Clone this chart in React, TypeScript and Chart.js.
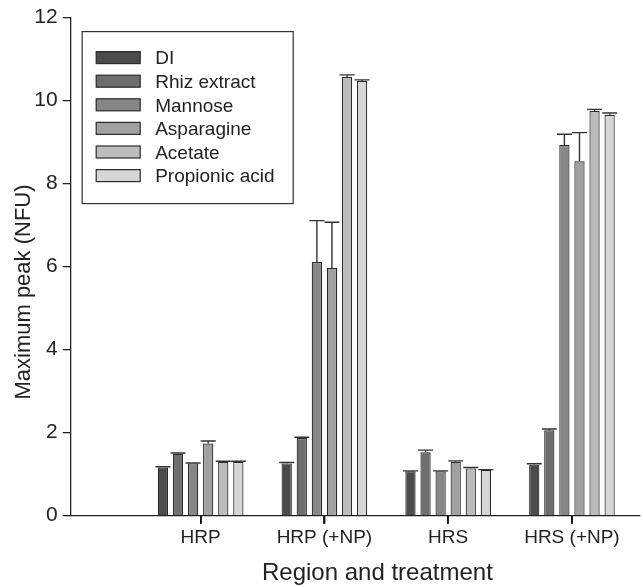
import React, { useEffect, useRef } from 'react';
import { Chart, registerables } from 'chart.js';

Chart.register(...registerables);

const categories = ['HRP', 'HRP (+NP)', 'HRS', 'HRS (+NP)'];
const categoryPositions = [1, 2, 3, 4];
const seriesNames = ['DI', 'Rhiz extract', 'Mannose', 'Asparagine', 'Acetate', 'Propionic acid'];
const seriesColors = ['#4b4b4b', '#6e6e6e', '#878787', '#a1a1a1', '#bcbcbc', '#d6d6d6'];

const diValues = [1.16, 1.26, 1.07, 1.23];
const diErrors = [0.02, 0.02, 0.01, 0.02];
const rhizValues = [1.49, 1.87, 1.53, 2.06];
const rhizErrors = [0.02, 0.02, 0.05, 0.03];
const mannoseValues = [1.26, 6.11, 1.07, 8.93];
const mannoseErrors = [0.01, 1.0, 0.01, 0.26];
const asparagineValues = [1.74, 5.97, 1.3, 8.54];
const asparagineErrors = [0.06, 1.1, 0.02, 0.69];
const acetateValues = [1.3, 10.57, 1.14, 9.75];
const acetateErrors = [0.01, 0.05, 0.02, 0.04];
const propionicValues = [1.3, 10.47, 1.1, 9.66];
const propionicErrors = [0.01, 0.03, 0.01, 0.04];

const yTickValues = [0, 2, 4, 6, 8, 10, 12];
const xTitle = 'Region and treatment';
const yTitle = 'Maximum peak (NFU)';

const allValues = [diValues, rhizValues, mannoseValues, asparagineValues, acetateValues, propionicValues];
const allErrors = [diErrors, rhizErrors, mannoseErrors, asparagineErrors, acetateErrors, propionicErrors];

const FONT = '"Liberation Sans", Arial, Helvetica, sans-serif';
const INK = '#222222';

const errorBarPlugin = {
  id: 'errorBars',
  afterDatasetsDraw(chart: any) {
    const ctx = chart.ctx;
    const yScale = chart.scales.y;
    ctx.save();
    ctx.strokeStyle = '#333333';
    ctx.lineWidth = 1.4;
    chart.data.datasets.forEach((ds: any, i: number) => {
      const meta = chart.getDatasetMeta(i);
      meta.data.forEach((bar: any, j: number) => {
        const v = ds.data[j].y;
        const e = ds.errors[j];
        const yTop = yScale.getPixelForValue(v + e);
        const x = bar.x;
        ctx.beginPath();
        ctx.moveTo(x, bar.y);
        ctx.lineTo(x, yTop);
        ctx.moveTo(x - 7.5, yTop);
        ctx.lineTo(x + 7.5, yTop);
        ctx.stroke();
      });
    });
    ctx.restore();
  },
};

const legendAndTitlesPlugin = {
  id: 'legendAndTitles',
  afterDraw(chart: any) {
    const ctx = chart.ctx;
    const area = chart.chartArea;
    const xScale = chart.scales.x;
    ctx.save();
    // x tick marks at category centres
    ctx.strokeStyle = '#111111';
    ctx.lineWidth = 1.8;
    categoryPositions.forEach((v) => {
      const px = Math.round(xScale.getPixelForValue(v));
      ctx.beginPath();
      ctx.moveTo(px, area.bottom);
      ctx.lineTo(px, area.bottom + 8);
      ctx.stroke();
    });
    // legend
    const bx = area.left + 11.5;
    const by = area.top + 14;
    const bw = 211;
    const bh = 172;
    ctx.strokeStyle = '#333333';
    ctx.lineWidth = 1.2;
    ctx.strokeRect(bx, by, bw, bh);
    ctx.font = `19px ${FONT}`;
    ctx.textBaseline = 'middle';
    ctx.textAlign = 'left';
    chart.data.datasets.forEach((ds: any, i: number) => {
      const cy = by + 26.5 + i * 23.6;
      ctx.fillStyle = ds.backgroundColor;
      ctx.fillRect(bx + 14, cy - 6.5, 44, 12);
      ctx.strokeStyle = '#2a2a2a';
      ctx.lineWidth = 1.2;
      ctx.strokeRect(bx + 14, cy - 6.5, 44, 12);
      ctx.fillStyle = INK;
      ctx.fillText(ds.label, bx + 73, cy + 1);
    });
    // axis titles
    ctx.font = `24px ${FONT}`;
    ctx.textBaseline = 'alphabetic';
    ctx.textAlign = 'left';
    ctx.fillStyle = INK;
    ctx.fillText(xTitle, 262, 580);
    ctx.translate(30, 292);
    ctx.rotate(-Math.PI / 2);
    ctx.font = `22px ${FONT}`;
    ctx.textAlign = 'center';
    ctx.textBaseline = 'alphabetic';
    ctx.fillText(yTitle, 0, 0);
    ctx.restore();
  },
};

export default function App() {
  const ref = useRef<HTMLCanvasElement | null>(null);

  useEffect(() => {
    document.body.style.margin = '0';
    document.body.style.overflow = 'hidden';
    const canvas = ref.current;
    if (!canvas) return;
    const chart = new Chart(canvas, {
      type: 'bar',
      data: {
        datasets: seriesNames.map((name, i) => ({
          label: name,
          data: categoryPositions.map((x, j) => ({ x, y: allValues[i][j] })),
          errors: allErrors[i],
          backgroundColor: seriesColors[i],
          borderColor: '#2a2a2a',
          borderWidth: 1.2,
          categoryPercentage: 0.731,
          barPercentage: 0.68,
        })) as any,
      },
      options: {
        responsive: false,
        animation: false,
        devicePixelRatio: 1,
        layout: { padding: { top: 15, right: 3, left: 0, bottom: 0 } },
        plugins: {
          legend: { display: false },
          tooltip: { enabled: false },
        },
        scales: {
          x: {
            type: 'linear',
            min: -0.05,
            max: 4.55,
            offset: false,
            grid: { offset: false, drawOnChartArea: false, drawTicks: true, tickLength: 8, color: INK, lineWidth: 1.4 },
            border: { display: true, color: INK, width: 1.3 },
            ticks: {
              autoSkip: false,
              maxRotation: 0,
              padding: 3,
              color: INK,
              font: { family: FONT, size: 19 },
              callback: (v: any) => {
                const idx = categoryPositions.indexOf(Number(v));
                return idx >= 0 ? categories[idx] : '';
              },
            },
            afterBuildTicks: (s: any) => {
              s.ticks = categoryPositions.map((v) => ({ value: v }));
            },
            afterFit: (s: any) => {
              s.height = 71.3;
            },
          },
          y: {
            min: 0,
            max: 12,
            grid: { offset: false, drawOnChartArea: false, drawTicks: true, tickLength: 8, color: INK, lineWidth: 1.3 },
            border: { display: true, color: INK, width: 1.3 },
            ticks: {
              padding: 5,
              color: INK,
              font: { family: FONT, size: 21 },
            },
            afterBuildTicks: (s: any) => {
              s.ticks = yTickValues.map((v) => ({ value: v }));
            },
            afterFit: (s: any) => {
              s.width = 70.7;
            },
          },
        },
      } as any,
      plugins: [errorBarPlugin, legendAndTitlesPlugin],
    });
    return () => chart.destroy();
  }, []);

  return (
    <div style={{ width: 643, height: 587, background: '#ffffff' }}>
      <canvas ref={ref} width={643} height={587} style={{ display: 'block' }} />
    </div>
  );
}
